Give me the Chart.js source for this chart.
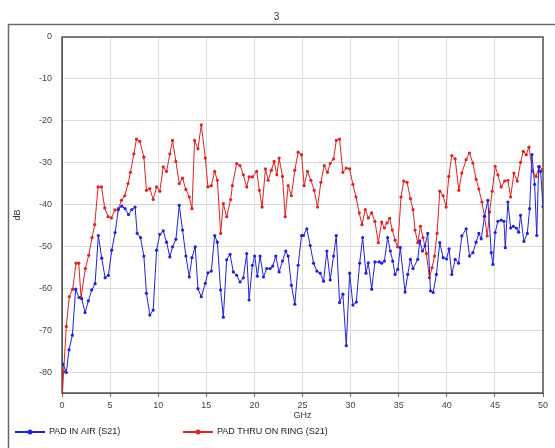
<!DOCTYPE html>
<html>
<head>
<meta charset="utf-8">
<script src="https://cdn.jsdelivr.net/npm/chart.js@4"></script>
<style>
  html, body { margin: 0; padding: 0; background: #fff; }
</style>
</head>
<body>
<canvas id="chart" width="555" height="448"></canvas>
<script>
const chartTitle = '3';
const xTitle = 'GHz';
const yTitle = 'dB';
const seriesNames = ['PAD IN AIR (S21)', 'PAD THRU ON RING (S21)'];
const seriesColors = ['#2222dd', '#e22222'];

// PAD IN AIR (S21)
const airGHz = [0.10, 0.45, 0.73, 1.08, 1.42, 1.77, 2.05, 2.40, 2.74, 3.09, 3.44, 3.78, 4.13, 4.48, 4.82,
  5.17, 5.52, 5.87, 6.22, 6.56, 6.91, 7.26, 7.60, 7.81, 8.16, 8.51, 8.78, 9.13, 9.48, 9.83,
  10.17, 10.52, 10.87, 11.21, 11.49, 11.84, 12.19, 12.53, 12.88, 13.23, 13.51, 13.85, 14.13, 14.48, 14.90,
  15.17, 15.52, 15.87, 16.15, 16.49, 16.77, 17.12, 17.47, 17.81, 18.16, 18.51, 18.85, 19.20, 19.45, 19.79,
  20.03, 20.31, 20.59, 20.94, 21.28, 21.63, 21.91, 22.22, 22.57, 22.92, 23.26, 23.51, 23.85, 24.20, 24.55,
  24.90, 25.10, 25.45, 25.80, 26.15, 26.49, 26.84, 27.19, 27.53, 27.88, 28.23, 28.51, 28.85, 29.20, 29.55,
  29.90, 30.24, 30.59, 30.94, 31.25, 31.60, 31.84, 32.19, 32.53, 32.98, 33.23, 33.51, 33.85, 34.13, 34.38,
  34.62, 34.90, 35.17, 35.66, 35.94, 36.22, 36.49, 36.98, 37.19, 37.47, 37.74, 38.02, 38.30, 38.58, 38.92,
  39.27, 39.62, 39.97, 40.24, 40.52, 40.87, 41.22, 41.56, 42.01, 42.36, 42.71, 43.05, 43.33, 43.58, 43.92,
  44.27, 44.62, 44.79, 45.03, 45.31, 45.66, 45.94, 46.08, 46.35, 46.63, 46.91, 47.22, 47.47, 47.67, 48.02,
  48.37, 48.61, 48.85, 49.13, 49.35, 49.55, 49.75, 50.00];
const airDb = [-78.1, -80.1, -74.7, -71.2, -60.2, -62.2, -62.5, -65.8, -63.0, -60.4, -58.9, -47.4, -52.8, -57.5, -56.9,
  -50.9, -46.7, -41.0, -40.4, -41.0, -42.4, -41.2, -40.6, -46.9, -47.9, -52.3, -61.2, -66.4, -65.2, -50.9,
  -47.1, -46.3, -49.0, -52.5, -50.1, -48.3, -40.2, -46.1, -52.3, -57.3, -52.7, -50.1, -60.1, -62.0, -58.8,
  -56.3, -55.9, -47.4, -49.0, -60.4, -66.9, -53.2, -51.9, -56.1, -56.9, -58.5, -57.5, -51.7, -62.8, -54.5,
  -52.3, -57.1, -52.3, -57.3, -55.3, -55.3, -54.7, -52.3, -56.1, -53.5, -51.1, -52.3, -59.3, -63.8, -54.5,
  -47.4, -47.4, -45.8, -49.8, -54.0, -55.9, -56.4, -58.3, -51.1, -58.0, -52.3, -47.4, -63.4, -61.4, -73.7,
  -56.4, -64.0, -63.3, -54.0, -47.9, -56.4, -53.9, -60.2, -53.7, -53.7, -54.0, -53.5, -47.9, -51.1, -53.5,
  -56.7, -55.5, -50.3, -60.9, -56.7, -53.1, -55.3, -53.1, -48.7, -51.1, -49.9, -46.9, -60.6, -61.0, -56.7,
  -49.1, -52.7, -53.0, -50.6, -56.7, -53.1, -54.0, -47.5, -45.8, -52.3, -51.5, -49.0, -46.9, -48.2, -42.8,
  -39.0, -51.5, -54.3, -46.7, -44.0, -43.7, -44.0, -50.3, -39.4, -45.6, -45.2, -45.6, -46.6, -42.6, -48.8,
  -46.9, -41.0, -28.1, -35.2, -47.4, -31.0, -32.1, -40.5];

// PAD THRU ON RING (S21)
const ringGHz = [0.05, 0.17, 0.45, 0.76, 1.11, 1.46, 1.74, 1.98, 2.43, 2.78, 3.12, 3.40, 3.75, 4.10, 4.44,
  4.79, 5.14, 5.49, 5.83, 6.18, 6.53, 6.87, 7.12, 7.47, 7.74, 8.09, 8.51, 8.78, 9.13, 9.48,
  9.83, 10.17, 10.52, 10.87, 11.21, 11.49, 11.84, 12.19, 12.53, 12.88, 13.23, 13.51, 13.78, 14.13, 14.48,
  14.90, 15.17, 15.52, 15.87, 16.15, 16.49, 16.77, 17.12, 17.53, 17.71, 18.16, 18.51, 18.85, 19.20, 19.45,
  19.79, 20.24, 20.52, 20.80, 21.15, 21.43, 21.77, 22.05, 22.33, 22.57, 22.92, 23.20, 23.51, 23.85, 24.20,
  24.55, 24.90, 25.17, 25.52, 25.87, 26.22, 26.56, 26.91, 27.26, 27.60, 27.88, 28.23, 28.51, 28.85, 29.20,
  29.55, 29.90, 30.24, 30.56, 30.90, 31.18, 31.53, 31.84, 32.19, 32.53, 32.88, 33.23, 33.51, 33.79, 34.06,
  34.34, 34.62, 34.90, 35.24, 35.52, 35.87, 36.22, 36.49, 36.70, 36.98, 37.26, 37.53, 37.88, 38.19, 38.47,
  38.72, 38.99, 39.27, 39.62, 39.93, 40.21, 40.52, 40.87, 41.25, 41.56, 42.01, 42.36, 42.71, 43.05, 43.33,
  43.65, 43.92, 44.20, 44.45, 44.72, 45.03, 45.31, 45.66, 46.01, 46.35, 46.63, 46.98, 47.33, 47.67, 47.95,
  48.26, 48.54, 48.92, 49.27, 49.62, 49.97];
const ringDb = [-85.0, -79.9, -69.1, -62.0, -60.2, -54.0, -54.0, -62.2, -55.3, -52.1, -47.9, -44.8, -35.8, -35.8, -40.8,
  -42.9, -43.2, -41.3, -41.3, -39.0, -37.9, -35.0, -32.3, -27.9, -24.4, -24.9, -28.7, -36.6, -36.2, -38.8,
  -35.8, -36.8, -31.0, -32.1, -27.9, -24.7, -29.7, -35.0, -33.7, -36.4, -38.2, -41.0, -24.7, -26.7, -21.0,
  -28.9, -35.8, -35.5, -32.1, -34.2, -46.9, -39.8, -42.9, -38.8, -35.5, -30.2, -30.7, -32.9, -35.8, -33.4,
  -33.4, -32.1, -36.6, -40.6, -31.5, -34.2, -31.8, -29.7, -32.9, -28.9, -33.3, -42.9, -35.5, -37.9, -31.8,
  -27.5, -28.1, -35.5, -32.1, -34.2, -36.6, -40.6, -34.7, -30.7, -32.3, -30.2, -29.1, -24.7, -24.4, -32.3,
  -31.3, -31.5, -35.2, -38.2, -42.0, -44.8, -41.2, -43.2, -42.0, -44.0, -49.1, -44.2, -45.6, -44.4, -43.3,
  -46.1, -48.5, -50.1, -38.2, -34.4, -34.7, -38.6, -41.2, -46.1, -49.1, -45.2, -47.9, -51.7, -57.5, -55.1,
  -52.3, -46.9, -36.8, -37.9, -40.6, -33.3, -28.3, -29.1, -36.6, -32.5, -29.3, -27.7, -30.1, -34.0, -36.3,
  -39.4, -42.8, -47.5, -41.8, -36.8, -30.9, -32.9, -35.8, -34.4, -34.2, -38.2, -32.5, -34.4, -29.9, -27.3,
  -28.1, -26.3, -32.1, -33.3, -30.9, -31.7];

const fontFamily = '"Liberation Sans", Arial, sans-serif';
Chart.defaults.font.family = fontFamily;

const toPoints = (xs, ys) => xs.map((x, i) => ({ x: x, y: ys[i] }));

const framePlugin = {
  id: 'frame',
  beforeDraw(chart) {
    const ctx = chart.ctx;
    ctx.save();
    ctx.fillStyle = '#fff';
    ctx.fillRect(0, 0, chart.width, chart.height);
    ctx.strokeStyle = '#6a6a6a';
    ctx.lineWidth = 1.5;
    ctx.strokeRect(8.5, 24.5, chart.width + 20, chart.height + 20);
    ctx.restore();
  },
  beforeDatasetsDraw(chart) {
    const ctx = chart.ctx;
    const a = chart.chartArea;
    ctx.save();
    ctx.strokeStyle = '#555';
    ctx.lineWidth = 1.5;
    ctx.strokeRect(a.left, a.top, a.right - a.left, a.bottom - a.top);
    ctx.restore();
  },
  afterDraw(chart) {
    // legend at the bottom, line with a dot like the original
    const ctx = chart.ctx;
    const y = 432;
    const starts = [15, 183];
    ctx.save();
    chart.data.datasets.forEach((ds, i) => {
      const x = starts[i];
      ctx.strokeStyle = ds.borderColor;
      ctx.lineWidth = 2;
      ctx.beginPath();
      ctx.moveTo(x, y);
      ctx.lineTo(x + 30, y);
      ctx.stroke();
      ctx.fillStyle = ds.borderColor;
      ctx.beginPath();
      ctx.arc(x + 15, y, 2.5, 0, Math.PI * 2);
      ctx.fill();
      ctx.fillStyle = '#222';
      ctx.font = '9px ' + fontFamily;
      ctx.textBaseline = 'middle';
      ctx.fillText(ds.label, x + 34, y);
    });
    ctx.restore();
  }
};

new Chart(document.getElementById('chart'), {
  type: 'line',
  data: {
    datasets: [
      {
        label: seriesNames[0],
        data: toPoints(airGHz, airDb),
        borderColor: seriesColors[0],
        backgroundColor: seriesColors[0],
        borderWidth: 1,
        pointRadius: 1.6,
        pointBorderWidth: 0,
        tension: 0
      },
      {
        label: seriesNames[1],
        data: toPoints(ringGHz, ringDb),
        borderColor: seriesColors[1],
        backgroundColor: seriesColors[1],
        borderWidth: 1,
        pointRadius: 1.6,
        pointBorderWidth: 0,
        tension: 0
      }
    ]
  },
  options: {
    responsive: false,
    animation: false,
    layout: { padding: { left: 10, right: 12, top: 0, bottom: 25 } },
    plugins: {
      legend: { display: false },
      tooltip: { enabled: false },
      title: {
        display: true,
        text: chartTitle,
        color: '#333',
        font: { size: 10, weight: 'normal' },
        padding: { top: 11, bottom: 14 }
      }
    },
    scales: {
      x: {
        type: 'linear',
        min: 0,
        max: 50,
        ticks: { stepSize: 5, color: '#444', font: { size: 9 }, padding: 3, maxRotation: 0 },
        grid: { color: '#dadada', tickLength: 4, tickColor: '#666' },
        border: { color: '#555' },
        title: { display: true, text: xTitle, color: '#333', font: { size: 9 }, padding: { top: 2, bottom: 2 } },
        afterFit: s => { s.height = 30; }
      },
      y: {
        min: -85,
        max: 0,
        ticks: { stepSize: 10, color: '#444', font: { size: 9 }, padding: 10 },
        afterBuildTicks: s => { s.ticks = s.ticks.filter(t => t.value % 10 === 0); },
        grid: { color: '#dadada', drawTicks: false },
        border: { color: '#555' },
        title: { display: true, text: yTitle, color: '#333', font: { size: 9 }, padding: { top: 2, bottom: 2 } },
        afterFit: s => { s.width = 52; }
      }
    }
  },
  plugins: [framePlugin]
});
</script>
</body>
</html>
